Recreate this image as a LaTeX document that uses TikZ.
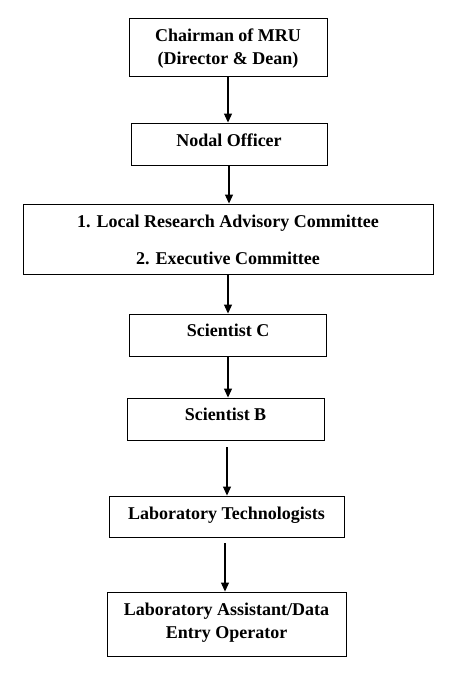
\documentclass[tikz,border=0pt]{standalone}
\usepackage{fontspec}
\setmainfont{Liberation Serif}
\usetikzlibrary{arrows.meta}
\tikzset{
  orgbox/.style={draw, line width=0.9bp, inner sep=0pt},
  arr/.style={line width=1.1bp, -{Triangle[width=8bp,length=9bp]}},
}
\newcommand{\boxtext}[4]{\parbox[c][#2][t]{#1}{\centering\fontsize{18bp}{23bp}\selectfont\bfseries\rule{0pt}{#3}#4}}
\begin{document}
\begin{tikzpicture}[x=1bp,y=-1bp]
\useasboundingbox (0,0) rectangle (459,675);
\node[orgbox] (b1) at (228,47) {\boxtext{198bp}{58bp}{24bp}{Chairman of MRU\\(Director \& Dean)}};
\node[orgbox] (b2) at (229,144) {\boxtext{196bp}{42bp}{23bp}{Nodal Officer}};
\node[orgbox] (b3) at (228,239) {\boxtext{410bp}{70bp}{23bp}{1. Local Research Advisory Committee\\[14bp]2. Executive Committee}};
\node[orgbox] (b4) at (228,335) {\boxtext{197bp}{42bp}{22bp}{Scientist C}};
\node[orgbox] (b5) at (225.5,419) {\boxtext{197bp}{42bp}{22bp}{Scientist B}};
\node[orgbox] (b6) at (226.5,516.5) {\boxtext{235bp}{41bp}{23bp}{Laboratory Technologists}};
\node[orgbox] (b7) at (226.5,624) {\boxtext{239bp}{64bp}{23bp}{Laboratory Assistant/Data\\Entry Operator}};
\coordinate (g5) at (227,447);
\coordinate (g6) at (225,543);
\draw[arr] (b1.south) -- (b1.south |- b2.north);
\draw[arr] (b2.south) -- (b2.south |- b3.north);
\draw[arr] (b3.south) -- (b3.south |- b4.north);
\draw[arr] (b4.south) -- (b4.south |- b5.north);
\draw[arr] (g5) -- (g5 |- b6.north);
\draw[arr] (g6) -- (g6 |- b7.north);
\end{tikzpicture}
\end{document}
